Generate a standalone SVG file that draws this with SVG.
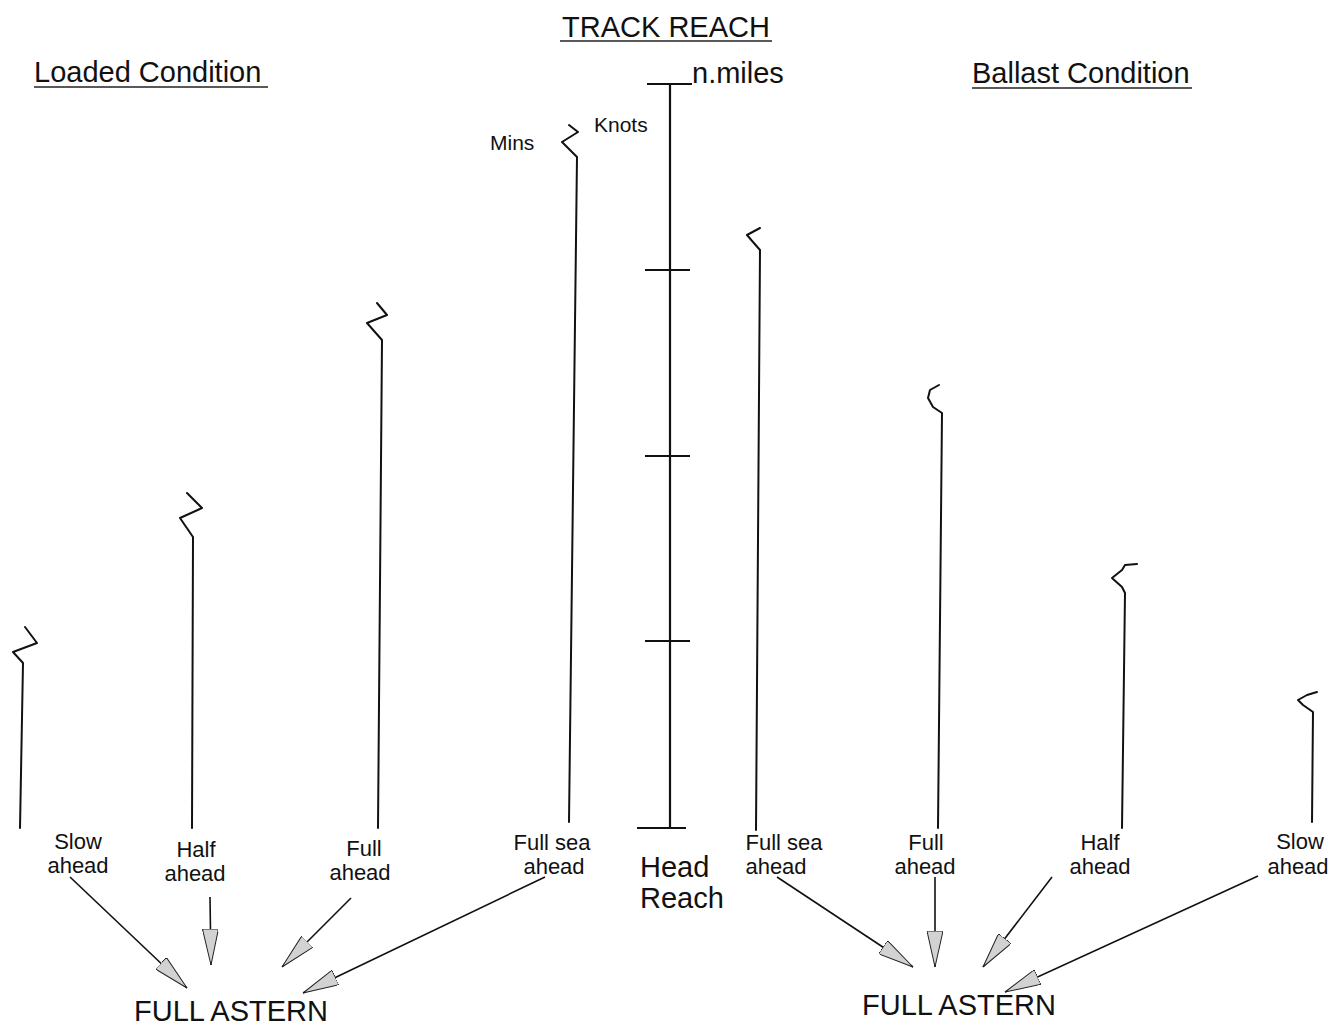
<svg xmlns="http://www.w3.org/2000/svg" width="1330" height="1026" viewBox="0 0 1330 1026">
  <style>
    text { font-family: "Liberation Sans", Arial, sans-serif; fill: #111; }
    .head { font-size: 29px; }
    .unit { font-size: 21px; }
    .lbl { font-size: 22px; text-anchor: middle; }
    .big { font-size: 29px; }
    .ul { stroke: #222; stroke-width: 1.3; }
    .bar { fill: none; stroke: #111; stroke-width: 2; stroke-linejoin: round; stroke-linecap: round; }
    .scale { stroke: #111; stroke-width: 2.2; }
    .conn { stroke: #111; stroke-width: 1.6; fill: none; }
  </style>
  <defs>
    <marker id="arrow" viewBox="0 0 36 16" markerWidth="36" markerHeight="16" refX="36" refY="8" orient="auto" markerUnits="userSpaceOnUse">
      <path d="M0,0 L36,8 L0,16 Z" fill="#d2d2d2" stroke="#222" stroke-width="1"/>
    </marker>
  </defs>

  <!-- headings -->
  <g id="title">
    <text class="head" x="666" y="37" text-anchor="middle">TRACK REACH</text>
    <line class="ul" x1="560" y1="41" x2="772" y2="41"/>
  </g>
  <g id="loaded-heading">
    <text class="head" x="34" y="82">Loaded Condition</text>
    <line class="ul" x1="34" y1="87" x2="268" y2="87"/>
  </g>
  <g id="ballast-heading">
    <text class="head" x="972" y="83">Ballast Condition</text>
    <line class="ul" x1="972" y1="88" x2="1192" y2="88"/>
  </g>

  <!-- distance scale -->
  <g id="scale">
    <line class="scale" x1="670" y1="84" x2="670" y2="828"/>
    <line class="scale" x1="647" y1="84" x2="692" y2="84"/>
    <line class="scale" x1="645" y1="270" x2="690" y2="270"/>
    <line class="scale" x1="645" y1="456" x2="690" y2="456"/>
    <line class="scale" x1="645" y1="641" x2="690" y2="641"/>
    <line class="scale" x1="637" y1="828" x2="686" y2="828"/>
    <text class="head" x="692" y="83">n.miles</text>
    <text class="unit" x="594" y="132">Knots</text>
    <text class="unit" x="490" y="150">Mins</text>
    <text class="big" x="640" y="877">Head</text>
    <text class="big" x="640" y="908">Reach</text>
  </g>

  <!-- loaded condition bars -->
  <g id="loaded-slow">
    <path class="bar" d="M25,627 L37,643 L13,652 L23,663 L20,828"/>
    <text class="lbl" x="78" y="849">Slow</text>
    <text class="lbl" x="78" y="873">ahead</text>
  </g>
  <g id="loaded-half">
    <path class="bar" d="M187,493 L202,508 L180,518 L193,537 L192,828"/>
    <text class="lbl" x="196" y="857">Half</text>
    <text class="lbl" x="195" y="881">ahead</text>
  </g>
  <g id="loaded-full">
    <path class="bar" d="M377,303 L387,315 L367,323 L382,340 L378,828"/>
    <text class="lbl" x="364" y="856">Full</text>
    <text class="lbl" x="360" y="880">ahead</text>
  </g>
  <g id="loaded-fullsea">
    <path class="bar" d="M569,125 L578,132 L562,142 L577,157 L569,822"/>
    <text class="lbl" x="552" y="850">Full sea</text>
    <text class="lbl" x="554" y="874">ahead</text>
  </g>

  <!-- ballast condition bars -->
  <g id="ballast-fullsea">
    <path class="bar" d="M760,228 L747,235 L753,242 L760,250 L756,830"/>
    <text class="lbl" x="784" y="850">Full sea</text>
    <text class="lbl" x="776" y="874">ahead</text>
  </g>
  <g id="ballast-full">
    <path class="bar" d="M939,385 L930,390 L928,398 L933,407 L942,413 L938,828"/>
    <text class="lbl" x="926" y="850">Full</text>
    <text class="lbl" x="925" y="874">ahead</text>
  </g>
  <g id="ballast-half">
    <path class="bar" d="M1137,564 L1125,565 L1122,570 L1112,578 L1122,587 L1125,593 L1122,828"/>
    <text class="lbl" x="1100" y="850">Half</text>
    <text class="lbl" x="1100" y="874">ahead</text>
  </g>
  <g id="ballast-slow">
    <path class="bar" d="M1317,692 L1307,695 L1298,700 L1303,705 L1313,712 L1312,822"/>
    <text class="lbl" x="1300" y="849">Slow</text>
    <text class="lbl" x="1298" y="874">ahead</text>
  </g>

  <!-- targets -->
  <g id="loaded-astern">
    <text class="big" x="231" y="1021" text-anchor="middle">FULL ASTERN</text>
  </g>
  <g id="ballast-astern">
    <text class="big" x="959" y="1015" text-anchor="middle">FULL ASTERN</text>
  </g>

  <!-- connectors -->
  <g id="connectors" marker-end="url(#arrow)">
    <line class="conn" x1="70" y1="877" x2="187" y2="988" marker-end="url(#arrow)"/>
    <line class="conn" x1="210" y1="897" x2="211" y2="965" marker-end="url(#arrow)"/>
    <line class="conn" x1="351" y1="898" x2="282" y2="967" marker-end="url(#arrow)"/>
    <line class="conn" x1="545" y1="877" x2="303" y2="993" marker-end="url(#arrow)"/>
    <line class="conn" x1="777" y1="877" x2="913" y2="967" marker-end="url(#arrow)"/>
    <line class="conn" x1="935" y1="877" x2="935" y2="967" marker-end="url(#arrow)"/>
    <line class="conn" x1="1052" y1="877" x2="983" y2="967" marker-end="url(#arrow)"/>
    <line class="conn" x1="1258" y1="876" x2="1005" y2="992" marker-end="url(#arrow)"/>
  </g>
</svg>
